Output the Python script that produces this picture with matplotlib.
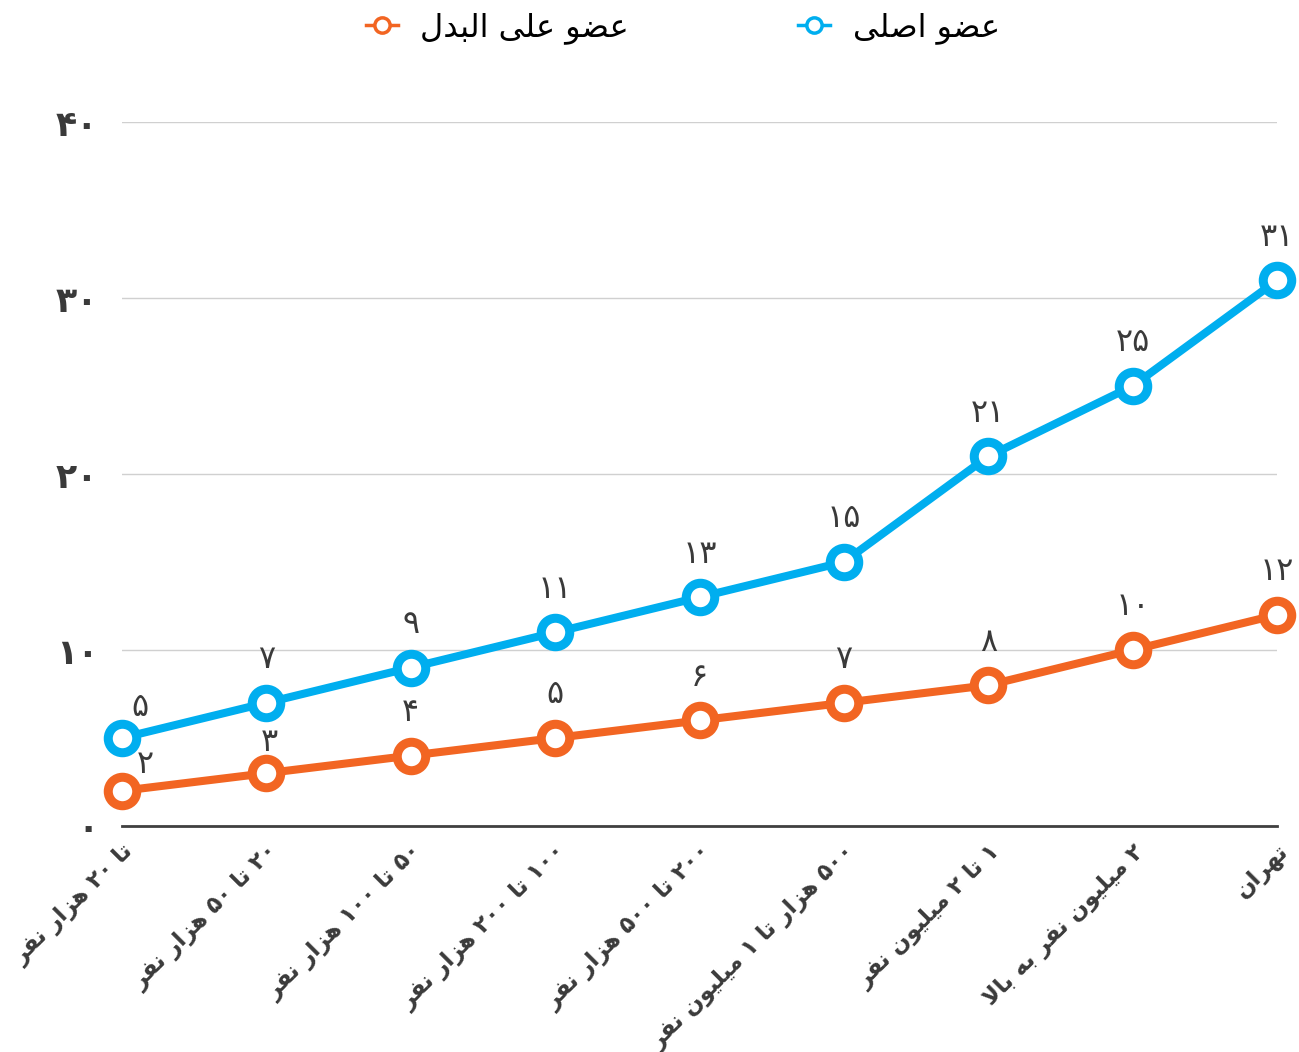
import matplotlib
matplotlib.use("Agg")
import matplotlib.pyplot as plt
from matplotlib.lines import Line2D

# ---------------- data ----------------
categories = ["تا ۲۰ هزار نفر", "۲۰ تا ۵۰ هزار نفر", "۵۰ تا ۱۰۰ هزار نفر",
              "۱۰۰ تا ۲۰۰ هزار نفر", "۲۰۰ تا ۵۰۰ هزار نفر",
              "۵۰۰ هزار تا ۱ میلیون نفر", "۱ تا ۲ میلیون نفر",
              "۲ میلیون نفر به بالا", "تهران"]
series_names = ["عضو اصلی", "عضو علی البدل"]
main_members = [5, 7, 9, 11, 13, 15, 21, 25, 31]
alt_members = [2, 3, 4, 5, 6, 7, 8, 10, 12]
y_ticks = [0, 10, 20, 30, 40]

BLUE = "#00AEEF"
ORANGE = "#F26522"
TXT = "#3a3a3a"

# ---------------- simple Arabic/Persian shaping ----------------
FORMS = {
    'ا': ('\uFE8D', '\uFE8E', None, None),
    'ب': ('\uFE8F', '\uFE90', '\uFE91', '\uFE92'),
    'ت': ('\uFE95', '\uFE96', '\uFE97', '\uFE98'),
    'د': ('\uFEA9', '\uFEAA', None, None),
    'ر': ('\uFEAD', '\uFEAE', None, None),
    'ز': ('\uFEAF', '\uFEB0', None, None),
    'ص': ('\uFEB9', '\uFEBA', '\uFEBB', '\uFEBC'),
    'ض': ('\uFEBD', '\uFEBE', '\uFEBF', '\uFEC0'),
    'ع': ('\uFEC9', '\uFECA', '\uFECB', '\uFECC'),
    'ف': ('\uFED1', '\uFED2', '\uFED3', '\uFED4'),
    'ل': ('\uFEDD', '\uFEDE', '\uFEDF', '\uFEE0'),
    'م': ('\uFEE1', '\uFEE2', '\uFEE3', '\uFEE4'),
    'ن': ('\uFEE5', '\uFEE6', '\uFEE7', '\uFEE8'),
    'ه': ('\uFEE9', '\uFEEA', '\uFEEB', '\uFEEC'),
    'و': ('\uFEED', '\uFEEE', None, None),
    'ی': ('\uFEEF', '\uFEF0', '\uFEF3', '\uFEF4'),
    'LA': ('\uFEFB', '\uFEFC', None, None),
}


def shape_word(word):
    units = []
    i = 0
    while i < len(word):
        if word[i] == 'ل' and i + 1 < len(word) and word[i + 1] == 'ا':
            units.append('LA')
            i += 2
        else:
            units.append(word[i])
            i += 1
    out = []
    for k, u in enumerate(units):
        if u not in FORMS:
            out.append(u)
            continue
        f = FORMS[u]
        prev = units[k - 1] if k > 0 else None
        nxt = units[k + 1] if k + 1 < len(units) else None
        jp = prev is not None and prev in FORMS and FORMS[prev][2] is not None
        jn = nxt is not None and nxt in FORMS and f[2] is not None
        if jp and jn:
            g = f[3]
        elif jp:
            g = f[1]
        elif jn:
            g = f[2]
        else:
            g = f[0]
        out.append(g)
    return ''.join(reversed(out))


def rtl(text):
    words = text.split(' ')
    vis = []
    for w in reversed(words):
        if all('\u06F0' <= c <= '\u06F9' for c in w):
            vis.append(w)
        else:
            vis.append(shape_word(w))
    return ' '.join(vis)


def fa_num(n):
    return ''.join(chr(0x06F0 + int(c)) for c in str(n))


plt.rcParams['font.family'] = ['DejaVu Sans']

fig = plt.figure(figsize=(12.99, 10.52), dpi=100)
ax = fig.add_axes([122 / 1299, 1 - 826 / 1052, (1277 - 122) / 1299, (826 - 122) / 1052])

x = list(range(len(categories)))
ax.plot(x, main_members, color=BLUE, lw=5.8, marker='o', ms=20.5, mew=6.5,
        mfc='white', mec=BLUE, clip_on=False, zorder=4, solid_capstyle='round')
ax.plot(x, alt_members, color=ORANGE, lw=5.8, marker='o', ms=20.5, mew=6.5,
        mfc='white', mec=ORANGE, clip_on=False, zorder=4, solid_capstyle='round')

for xi, v in zip(x, main_members):
    off = (13, 22) if xi == 0 else (0, 31)
    ax.annotate(fa_num(v), (xi, v), xytext=off, textcoords='offset points',
                ha='center', va='center', fontsize=23, color=TXT, zorder=5)
for xi, v in zip(x, alt_members):
    if xi == 0:
        off = (17, 19)
    elif xi == 1:
        off = (2, 22)
    else:
        off = (0, 31)
    ax.annotate(fa_num(v), (xi, v), xytext=off, textcoords='offset points',
                ha='center', va='center', fontsize=23, color=TXT, zorder=5)

ax.set_xlim(0, len(categories) - 1)
ax.set_ylim(0, 40)
ax.set_yticks(y_ticks)
ax.set_yticklabels([fa_num(t) for t in y_ticks], fontsize=25, fontweight='bold', color=TXT)
ax.set_xticks(x)
ax.set_xticklabels([rtl(c) for c in categories], rotation=45, ha='right', va='top',
                   rotation_mode='anchor', fontsize=16.5, fontweight='bold', color=TXT)
ax.tick_params(axis='y', length=0, pad=17)
ax.tick_params(axis='x', length=0, pad=10)

ax.grid(axis='y', color='#d0d0d0', lw=1)
ax.set_axisbelow(True)
for s in ['left', 'right', 'top']:
    ax.spines[s].set_visible(False)
ax.spines['bottom'].set_color('#404040')
ax.spines['bottom'].set_linewidth(2)
ax.spines['bottom'].set_zorder(3)

handles = [
    Line2D([], [], color=ORANGE, lw=2.5, marker='o', ms=11, mew=2.5, mfc='white', mec=ORANGE),
    Line2D([], [], color=BLUE, lw=2.5, marker='o', ms=11, mew=2.5, mfc='white', mec=BLUE),
]
fig.legend(handles, [rtl(series_names[1]), rtl(series_names[0])],
           loc='center', bbox_to_anchor=(683 / 1299, 1 - 28 / 1052), ncol=2,
           frameon=False, fontsize=23, handlelength=1.0, handletextpad=0.7,
           columnspacing=5.3)

fig.savefig("out.png", dpi=100, facecolor='white')
